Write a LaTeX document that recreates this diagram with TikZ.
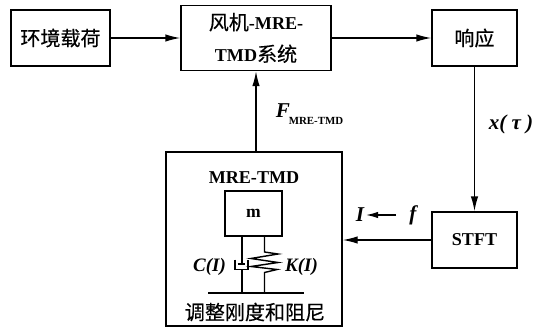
\documentclass[tikz,border=0pt]{standalone}
\usepackage{fontspec}
\usetikzlibrary{arrows.meta}
\setmainfont{Liberation Serif}
\newfontfamily\cjk[FakeBold=.4]{Noto Sans CJK SC}
\newcommand{\latinbf}{\fontsize{10.3}{13}\selectfont\rmfamily\bfseries}
\tikzset{
  blockbox/.style={draw, line width=.8pt, inner sep=0pt, align=center},
  flowline/.style={line width=.8pt, -{Latex[length=3mm,width=1.5mm]}},
  partline/.style={line width=.8pt},
  vartext/.style={font=\fontsize{12}{14}\selectfont\bfseries\itshape},
  parttext/.style={font=\fontsize{10.8}{13}\selectfont\bfseries\itshape},
}
\begin{document}
\begin{tikzpicture}[font=\fontsize{11.4}{13}\selectfont]
\useasboundingbox (0,0) rectangle (10.66,6.58);
% blocks
\node [blockbox, minimum width=1.98cm, minimum height=1.12cm] (load) at (1.21,5.82) {\cjk 环境载荷};
\node [blockbox, minimum width=3cm, minimum height=1.3cm] (sys) at (5.12,5.82) {\cjk 风机{\latinbf -MRE-}\\[5pt]{\latinbf TMD}\cjk 系统};
\node [blockbox, minimum width=1.7cm, minimum height=1.12cm] (resp) at (9.49,5.82) {\cjk 响应};
\node [blockbox, minimum width=1.7cm, minimum height=1.12cm, font=\latinbf] (stft) at (9.49,1.78) {STFT};
\node [blockbox, minimum width=3.52cm, minimum height=3.48cm] (tmd) at (5.08,1.8) {};
\node [blockbox, minimum width=1.14cm, minimum height=.9cm, font=\bfseries] (mass) at (5.07,2.31) {m};
\node [font=\latinbf] (tmdname) at (5.08,3.02) {MRE-TMD};
\node (tune) at (5.1,.34) {\cjk 调整刚度和阻尼};
% arrows
\draw [flowline] (load) -- (sys);
\draw [flowline] (sys) -- (resp);
\draw [flowline] (resp) -- (stft);
\draw [flowline] (stft) -- (stft -| tmd.east);
\draw [flowline] (tmd.north -| sys) -- (sys);
% labels
\node [vartext, inner sep=0pt] (force) at (5.66,4.36) {F};
\node [font=\fontsize{6.2}{8}\selectfont\bfseries, inner sep=0pt] (forcesub) at (6.32,4.16) {MRE-TMD};
\node [vartext] (resplabel) at (10.22,4.1) {x( τ )};
\node [vartext] (cur) at (7.2,2.28) {I};
\node [vartext] (freq) at (8.26,2.28) {f};
\coordinate (curend) at (7.32,2.28);
\coordinate (freqstart) at (7.92,2.28);
\draw [line width=.8pt, -{Latex[length=2.4mm,width=1.3mm]}] (freqstart) -- (curend);
\node [parttext] (clabel) at (4.19,1.24) {C(I)};
\node [parttext] (klabel) at (6.03,1.24) {K(I)};
% damper and spring
\coordinate (groundL) at (4.16,.72);
\coordinate (groundR) at (6.08,.72);
\draw [partline] (groundL) -- (groundR);
\coordinate (damperT) at (4.84,1.86);
\coordinate (damperB) at (4.84,.72);
\coordinate (springT) at (5.29,1.86);
\coordinate (springB) at (5.29,.72);
\draw [partline] (damperT) -- (4.84,1.3) (damperB) -- (4.84,1.19);
\draw [partline] (4.7,1.39) -- (4.7,1.19) -- (4.96,1.19) -- (4.96,1.39);
\draw [line width=1.2pt] (4.75,1.3) -- (4.9,1.3);
\draw [partline] (springT) -- (5.29,1.54) -- (5.56,1.5) -- (5.02,1.41) -- (5.56,1.33) -- (5.02,1.25) -- (5.54,1.19) -- (5.29,1.13) -- (springB);
\end{tikzpicture}
\end{document}
